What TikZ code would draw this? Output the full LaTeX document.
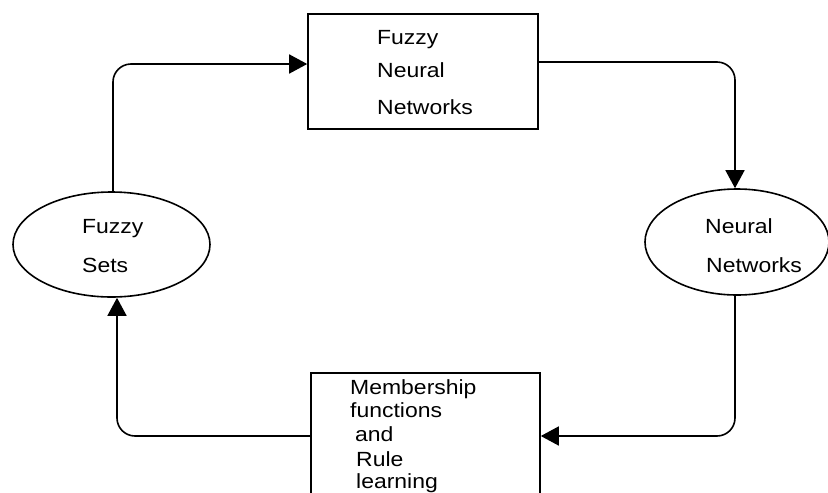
\documentclass[tikz,border=0pt]{standalone}
\usepackage{fontspec}
\setmainfont{Liberation Sans}[FakeStretch=1.12]
\usetikzlibrary{shapes.geometric,arrows.meta}
\begin{document}
\begin{tikzpicture}[x=1pt,y=-1pt,
  shapeline/.style={draw=black,line width=1.6pt},
  boxnode/.style={shapeline,rectangle,inner sep=0pt},
  ellnode/.style={shapeline,ellipse,inner sep=0pt},
  lbl/.style={anchor=base west,inner sep=0pt,font=\fontsize{20.5}{24}\selectfont},
  conn/.style={line width=1.6pt,rounded corners=18pt,-{Triangle[length=18pt,width=19pt]}}]
\useasboundingbox (0,0) rectangle (828,493);
\clip (0,0) rectangle (828,493);
% shapes
\node[boxnode,minimum width=230pt,minimum height=115pt] (fnn) at (423,71.5) {};
\node[ellnode,minimum width=197pt,minimum height=105pt] (fs) at (111.5,244.5) {};
\node[ellnode,minimum width=184pt,minimum height=106pt] (nn) at (737,242) {};
\node[boxnode,minimum width=229pt,minimum height=147pt] (mf) at (425.5,446.5) {};
% labels
\node[lbl] (t1) at (377,44) {Fuzzy};
\node[lbl] (t2) at (377,77) {Neural};
\node[lbl] (t3) at (377,114) {Networks};
\node[lbl] (t4) at (82,233) {Fuzzy};
\node[lbl] (t5) at (82,272) {Sets};
\node[lbl] (t6) at (705,233) {Neural};
\node[lbl] (t7) at (706,272) {Networks};
\node[lbl] (t8) at (350,394) {Membership};
\node[lbl] (t9) at (350,417) {functions};
\node[lbl] (t10) at (355,441) {and};
\node[lbl] (t11) at (356,466) {Rule};
\node[lbl] (t12) at (356,488) {learning};
% connectors
\draw[conn] ([xshift=1.5pt]fs.north) |- ([yshift=7.5pt]fnn.west);
\draw[conn] ([yshift=9.5pt]fnn.east) -| ([xshift=-2pt]nn.north);
\draw[conn] ([xshift=-2pt]nn.south) |- ([yshift=10.5pt]mf.east);
\draw[conn] ([yshift=10.5pt]mf.west) -| ([xshift=5.5pt]fs.south);
\end{tikzpicture}
\end{document}
